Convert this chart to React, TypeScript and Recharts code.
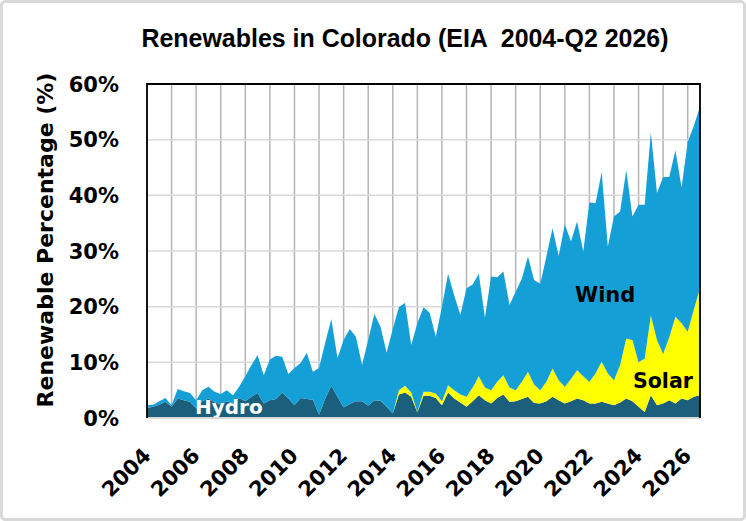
import { AreaChart, Area, XAxis, YAxis, CartesianGrid } from 'recharts'

// Quarterly shares of Colorado generation (%), 2004 Q1 onward
const hydro = [
  1.8, 2.0, 2.4, 2.9, 2.0, 3.5, 3.2, 2.9, 1.7, 3.0,
  3.5, 2.8, 2.5, 3.0, 2.6, 3.6, 3.0, 3.8, 4.5, 2.6,
  3.2, 3.4, 4.6, 3.5, 2.3, 3.6, 3.4, 3.3, 0.6, 3.5,
  5.8, 3.8, 1.9, 2.5, 3.0, 3.0, 2.2, 3.2, 3.1, 2.0,
  0.8, 4.2, 4.6, 3.8, 1.0, 4.0, 4.0, 3.6, 2.3, 4.6,
  3.5, 2.8, 2.0, 3.0, 4.1, 3.2, 2.6, 3.6, 4.2, 2.9,
  3.0, 3.4, 3.8, 2.7, 2.6, 3.0, 3.8, 3.2, 2.6, 3.0,
  3.5, 3.2, 2.6, 2.6, 2.9, 2.6, 2.3, 2.8, 3.5, 3.0,
  2.0, 1.1, 4.1, 2.3, 2.6, 3.2, 2.6, 3.5, 3.2, 3.8,
  4.1,
]

const solar = [
  0, 0, 0, 0, 0, 0, 0, 0, 0, 0,
  0, 0, 0, 0, 0, 0, 0, 0, 0, 0,
  0, 0, 0, 0, 0, 0, 0, 0, 0, 0,
  0, 0, 0, 0, 0, 0, 0, 0, 0, 0,
  0, 0.8, 1.2, 0.8, 0.1, 0.7, 0.7, 0.8, 0.7, 1.3,
  1.5, 1.4, 1.8, 2.5, 3.4, 2.3, 2.4, 2.9, 3.5, 2.6,
  2.0, 3.1, 4.5, 3.3, 2.4, 3.5, 5.1, 3.6, 3.0, 4.0,
  5.1, 4.3, 3.9, 5.4, 7.2, 5.4, 4.5, 6.7, 10.8, 11.0,
  8.0, 9.6, 14.3, 11.7, 8.9, 11.3, 15.6, 13.5, 12.3, 15.7,
  19.2,
]

const wind = [
  0.5, 0.4, 0.6, 0.7, 0.3, 1.7, 1.6, 1.6, 1.5, 2.0,
  2.1, 1.9, 1.8, 2.0, 1.5, 2.0, 4.5, 5.7, 6.8, 5.1,
  7.3, 7.8, 6.4, 4.4, 6.7, 6.3, 8.3, 5.0, 8.4, 10.0,
  12.0, 7.0, 12.1, 13.5, 11.6, 6.5, 11.8, 15.5, 13.3, 9.7,
  15.2, 14.9, 14.9, 8.5, 15.9, 15.2, 14.2, 10.2, 17.0, 20.0,
  17.0, 14.3, 19.5, 18.5, 18.4, 12.5, 20.4, 18.8, 18.6, 14.8,
  17.7, 18.5, 20.7, 18.8, 19.1, 22.5, 25.2, 22.3, 29.2, 24.7,
  26.7, 22.4, 32.2, 30.6, 34.1, 22.8, 29.4, 27.6, 30.2, 22.2,
  28.3, 27.6, 32.9, 26.4, 31.8, 28.8, 29.9, 24.4, 34.1, 33.0,
  32.6,
]

const startYear = 2004
const yearTicks = [
  2004, 2005, 2006, 2007, 2008, 2009, 2010, 2011, 2012, 2013, 2014, 2015,
  2016, 2017, 2018, 2019, 2020, 2021, 2022, 2023, 2024, 2025, 2026,
]
const percentTicks = [0, 10, 20, 30, 40, 50, 60]

const data = hydro.map((h, i) => ({
  year: startYear + i / 4,
  hydro: h,
  solar: solar[i],
  wind: wind[i],
}))

const W = 746
const H = 521
const plot = { left: 147, top: 84, right: 700, bottom: 418 }
const labelFont = "'DejaVu Sans', sans-serif"

function YearTick({ x, payload }: any) {
  if (payload.value % 2 !== 0) return <g />
  const tx = x + 5
  const ty = plot.bottom + 39
  return (
    <text
      x={tx}
      y={ty}
      transform={`rotate(-45 ${tx} ${ty})`}
      textAnchor="end"
      fontFamily={labelFont}
      fontWeight="bold"
      fontSize={21}
      fill="#000"
    >
      {payload.value}
    </text>
  )
}

function PercentTick({ y, payload }: any) {
  return (
    <text
      x={119}
      y={y}
      dy={7.5}
      textAnchor="end"
      fontFamily={labelFont}
      fontWeight="bold"
      fontSize={21}
      fill="#000"
    >
      {payload.value}%
    </text>
  )
}

export default function App() {
  return (
    <div style={{ position: 'absolute', left: 0, top: 0, width: W, height: H, background: '#fff' }}>
      <AreaChart
        width={W}
        height={H}
        data={data}
        margin={{ top: plot.top, right: W - plot.right, bottom: 0, left: 0 }}
      >
        <CartesianGrid horizontal={false} stroke="#b4b4b4" strokeWidth={1.5} />
        <CartesianGrid vertical={false} stroke="#d9d9d9" strokeWidth={1.5} />
        <XAxis
          type="number"
          dataKey="year"
          domain={[2004, 2026.5]}
          ticks={yearTicks}
          interval={0}
          tick={<YearTick />}
          tickLine={false}
          axisLine={false}
          height={H - plot.bottom}
        />
        <YAxis
          type="number"
          domain={[0, 60]}
          ticks={percentTicks}
          tick={<PercentTick />}
          tickLine={false}
          axisLine={false}
          width={plot.left}
        />
        <Area type="linear" dataKey="hydro" stackId="a" fill="#1b5f7d" stroke="none" fillOpacity={1} isAnimationActive={false} />
        <Area type="linear" dataKey="solar" stackId="a" fill="#ffff00" stroke="none" fillOpacity={1} isAnimationActive={false} />
        <Area type="linear" dataKey="wind" stackId="a" fill="#14a0d6" stroke="none" fillOpacity={1} isAnimationActive={false} />
      </AreaChart>
      <svg
        width={W}
        height={H}
        style={{ position: 'absolute', left: 0, top: 0, pointerEvents: 'none' }}
      >
        <text
          x={405}
          y={47}
          textAnchor="middle"
          fontFamily="'Liberation Sans Narrow', 'Liberation Sans', Arial, sans-serif"
          fontWeight="bold"
          fontSize={26}
          textLength={527}
          lengthAdjust="spacingAndGlyphs"
          fill="#000"
          style={{ whiteSpace: 'pre' }}
        >
          Renewables in Colorado (EIA  2004-Q2 2026)
        </text>
        <text
          x={53}
          y={240}
          transform="rotate(-90 53 240)"
          textAnchor="middle"
          fontFamily={labelFont}
          fontWeight="bold"
          fontSize={22}
          fill="#000"
        >
          Renewable Percentage (%)
        </text>
        <text x={575} y={302} fontFamily={labelFont} fontWeight="bold" fontSize={21} fill="#000">Wind</text>
        <text x={633} y={388} fontFamily={labelFont} fontWeight="bold" fontSize={20.5} fill="#000">Solar</text>
        <text x={195} y={414} fontFamily={labelFont} fontWeight="bold" fontSize={20} fill="#fff">Hydro</text>
        <line x1={plot.left} y1={plot.bottom} x2={plot.right} y2={plot.bottom} stroke="#d9d9d9" strokeWidth={2} />
        <polyline
          points={`${plot.left},${plot.bottom} ${plot.left},${plot.top} ${plot.right},${plot.top} ${plot.right},${plot.bottom}`}
          fill="none"
          stroke="#000"
          strokeWidth={1.8}
        />
        <rect x={1.5} y={1.5} width={W - 3} height={H - 3} rx={4} fill="none" stroke="#d9d9d9" strokeWidth={3} />
      </svg>
    </div>
  )
}
